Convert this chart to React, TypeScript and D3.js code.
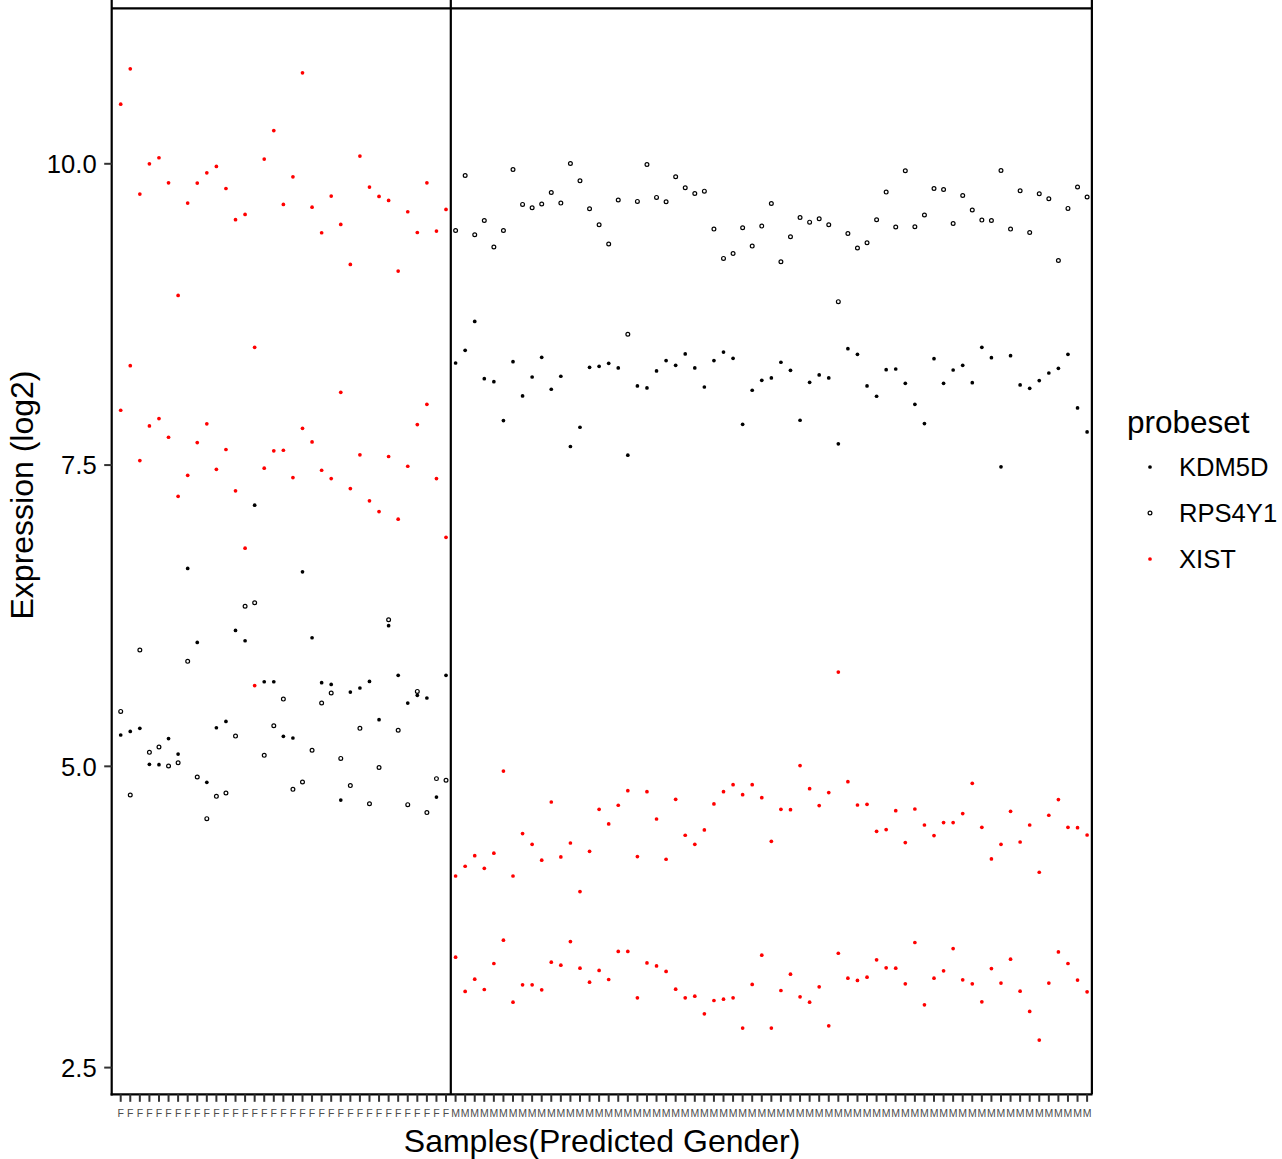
import React from "react";
import * as d3 from "d3";

// ---- data ----
const GENDER: string[] = (
  "FFFFFFFFFFFFFFFFFFFFFFFFFFFFFFFFFFF" +
  "MMMMMMMMMMMMMMMMMMMMMMMMMMMMMMMMMMMMMMMMMMMMMMMMMMMMMMMMMMMMMMMMMMM"
).split("");

const KDM5D: number[] = [
  5.26, 5.29, 5.315, 5.017, 5.014, 5.23, 5.102, 6.642, 6.028, 4.867,
  5.32, 5.373, 6.128, 6.042, 7.167, 5.702, 5.702, 5.249, 5.235, 6.614,
  6.067, 5.694, 5.68, 4.72, 5.616, 5.65, 5.705, 5.387, 6.167, 5.755,
  5.525, 5.589, 5.567, 4.745, 5.755,
  8.347, 8.452, 8.692, 8.217, 8.192, 7.869, 8.358, 8.074, 8.231, 8.394,
  8.129, 8.237, 7.654, 7.814, 8.311, 8.319, 8.344, 8.306, 7.582, 8.157,
  8.14, 8.281, 8.367, 8.328, 8.422, 8.306, 8.148, 8.367, 8.438, 8.386,
  7.838, 8.121, 8.203, 8.223, 8.353, 8.286, 7.872, 8.187, 8.248, 8.223,
  7.676, 8.466, 8.419, 8.157, 8.071, 8.292, 8.297, 8.178, 8.004, 7.844,
  8.383, 8.178, 8.289, 8.328, 8.184, 8.477, 8.391, 7.485, 8.408, 8.165,
  8.137, 8.201, 8.264, 8.303, 8.419, 7.974, 7.775,
];

const RPS4Y1: number[] = [
  5.456, 4.762, 5.965, 5.116, 5.16, 5.003, 5.03, 5.871, 4.911, 4.566,
  4.751, 4.779, 5.251, 6.329, 6.357, 5.091, 5.337, 5.558, 4.809, 4.87,
  5.133, 5.525, 5.608, 5.066, 4.84, 5.315, 4.69, 4.99, 6.216, 5.299,
  4.682, 5.622, 4.616, 4.898, 4.884,
  9.447, 9.903, 9.411, 9.53, 9.309, 9.447, 9.953, 9.663, 9.635, 9.666,
  9.762, 9.674, 10.003, 9.859, 9.627, 9.494, 9.334, 9.699, 8.585, 9.688,
  9.994, 9.721, 9.685, 9.892, 9.801, 9.754, 9.773, 9.458, 9.215, 9.256,
  9.469, 9.317, 9.483, 9.671, 9.187, 9.395, 9.555, 9.516, 9.544, 9.494,
  8.856, 9.422, 9.301, 9.345, 9.536, 9.765, 9.475, 9.942, 9.478, 9.575,
  9.795, 9.787, 9.505, 9.737, 9.616, 9.533, 9.53, 9.945, 9.458, 9.776,
  9.43, 9.751, 9.71, 9.198, 9.63, 9.807, 9.724,
];

const XIST_A: number[] = [
  10.495, 10.788, 9.749, 10.0, 10.05, 9.842, 8.908, 9.674, 9.84, 9.925,
  9.978, 9.795, 9.536, 9.58, 8.477, 10.039, 10.276, 9.663, 9.892, 10.755,
  9.64, 9.428, 9.732, 9.497, 9.165, 10.064, 9.807, 9.729, 9.696, 9.11,
  9.602, 9.43, 9.842, 9.442, 9.621,
  4.09, 4.171, 4.259, 4.154, 4.279, 4.961, 4.09, 4.442, 4.353, 4.221,
  4.704, 4.248, 4.364, 3.961, 4.295, 4.643, 4.522, 4.677, 4.798, 4.251,
  4.79, 4.563, 4.229, 4.726, 4.428, 4.353, 4.472, 4.688, 4.79, 4.848,
  4.765, 4.848, 4.74, 4.378, 4.643, 4.64, 5.006, 4.815, 4.674, 4.782,
  5.782, 4.873, 4.679, 4.685, 4.461, 4.475, 4.632, 4.367, 4.646, 4.513,
  4.425, 4.533, 4.533, 4.608, 4.859, 4.494, 4.232, 4.353, 4.627, 4.372,
  4.513, 4.121, 4.594, 4.724, 4.494, 4.491, 4.43,
];

const XIST_B: number[] = [
  7.955, 8.325, 7.537, 7.825, 7.886, 7.731, 7.241, 7.415, 7.687, 7.842,
  7.465, 7.629, 7.286, 6.81, 5.67, 7.474, 7.618, 7.623, 7.396, 7.805,
  7.692, 7.457, 7.388, 8.104, 7.305, 7.585, 7.203, 7.114, 7.571, 7.051,
  7.49, 7.836, 8.004, 7.388, 6.9,
  3.416, 3.132, 3.234, 3.148, 3.364, 3.557, 3.043, 3.187, 3.187, 3.145,
  3.375, 3.35, 3.546, 3.325, 3.209, 3.306, 3.231, 3.464, 3.464, 3.079,
  3.369, 3.344, 3.298, 3.151, 3.079, 3.093, 2.946, 3.057, 3.068, 3.079,
  2.828, 3.19, 3.433, 2.828, 3.14, 3.275, 3.087, 3.043, 3.17, 2.847,
  3.449, 3.242, 3.223, 3.25, 3.394, 3.328, 3.325, 3.195, 3.538, 3.021,
  3.242, 3.303, 3.488, 3.228, 3.195, 3.046, 3.322, 3.201, 3.4, 3.134,
  2.966, 2.728, 3.201, 3.46, 3.364, 3.226, 3.129,
];

const Y_TICKS: number[] = [2.5, 5.0, 7.5, 10.0];
const HLINE_VALUE = 11.29;
const PROBESETS = ["KDM5D", "RPS4Y1", "XIST"];

// ---- layout ----
const W = 1282;
const H = 1159;
const PANEL = { left: 111.7, right: 1092.5, top: 0, bottom: 1094.3 };
const FONT = "'Liberation Sans', Arial, Helvetica, sans-serif";
const DOT_R = 1.85;
const RING_R = 1.9;
const RING_W = 1.2;

export default function App() {
  const ids = GENDER.map((_, i) => `S${i + 1}`);
  const x = d3
    .scalePoint<string>()
    .domain(ids)
    .range([120.7, 1087.1]);
  const step = x.step();
  const y = d3.scaleLinear().domain([2.5, 10]).range([1067.6, 163.8]);

  const nF = GENDER.filter((g) => g === "F").length;
  const vlines = [
    (x(ids[nF - 1]) as number) + step / 2,
    (x(ids[ids.length - 1]) as number) + step / 2,
  ];

  const lw = 2.2;

  return (
    <svg
      width={W}
      height={H}
      style={{ position: "absolute", left: 0, top: 0, background: "#fff" }}
      fontFamily={FONT}
    >
      <rect x={0} y={0} width={W} height={H} fill="#fff" />

      {/* reference lines */}
      <line
        x1={PANEL.left}
        x2={PANEL.right}
        y1={y(HLINE_VALUE)}
        y2={y(HLINE_VALUE)}
        stroke="#000"
        strokeWidth={lw}
      />
      {vlines.map((vx, i) => (
        <line
          key={i}
          x1={vx}
          x2={vx}
          y1={PANEL.top}
          y2={PANEL.bottom}
          stroke="#000"
          strokeWidth={lw}
        />
      ))}

      {/* points */}
      <g>
        {KDM5D.map((v, i) => (
          <circle key={"k" + i} cx={x(ids[i])} cy={y(v)} r={DOT_R} fill="#000" />
        ))}
        {RPS4Y1.map((v, i) => (
          <circle
            key={"r" + i}
            cx={x(ids[i])}
            cy={y(v)}
            r={RING_R}
            fill="none"
            stroke="#000"
            strokeWidth={RING_W}
          />
        ))}
        {XIST_A.map((v, i) => (
          <circle key={"xa" + i} cx={x(ids[i])} cy={y(v)} r={DOT_R} fill="#ff0000" />
        ))}
        {XIST_B.map((v, i) => (
          <circle key={"xb" + i} cx={x(ids[i])} cy={y(v)} r={DOT_R} fill="#ff0000" />
        ))}
      </g>

      {/* axes lines */}
      <line
        x1={PANEL.left}
        x2={PANEL.left}
        y1={PANEL.top}
        y2={PANEL.bottom + lw / 2}
        stroke="#000"
        strokeWidth={lw}
      />
      <line
        x1={PANEL.left - lw / 2}
        x2={PANEL.right}
        y1={PANEL.bottom}
        y2={PANEL.bottom}
        stroke="#000"
        strokeWidth={lw}
      />

      {/* y ticks */}
      {Y_TICKS.map((t) => (
        <g key={t} transform={`translate(0,${y(t)})`}>
          <line x1={PANEL.left - 7.5} x2={PANEL.left} stroke="#333" strokeWidth={2} />
          <text
            x={PANEL.left - 15}
            dy="0.36em"
            textAnchor="end"
            fontSize={25.6}
            fill="#000"
          >
            {t.toFixed(1)}
          </text>
        </g>
      ))}

      {/* x ticks */}
      {ids.map((id, i) => (
        <g key={id} transform={`translate(${x(id)},0)`}>
          <line y1={PANEL.bottom} y2={PANEL.bottom + 7.5} stroke="#333" strokeWidth={2} />
          <text y={PANEL.bottom + 23} textAnchor="middle" fontSize={10.5} fill="#4d4d4d">
            {GENDER[i]}
          </text>
        </g>
      ))}

      {/* axis titles */}
      <text
        x={(PANEL.left + PANEL.right) / 2}
        y={1152}
        textAnchor="middle"
        fontSize={32}
        fill="#000"
      >
        Samples(Predicted Gender)
      </text>
      <text
        transform={`translate(33,495) rotate(-90)`}
        textAnchor="middle"
        fontSize={32}
        fill="#000"
      >
        Expression (log2)
      </text>

      {/* legend */}
      <g>
        <text x={1127} y={433} fontSize={31.5} fill="#000">
          probeset
        </text>
        {PROBESETS.map((p, i) => {
          const cy = 467 + i * 46;
          return (
            <g key={p}>
              {p === "RPS4Y1" ? (
                <circle cx={1150} cy={cy} r={RING_R} fill="none" stroke="#000" strokeWidth={RING_W} />
              ) : (
                <circle cx={1150} cy={cy} r={DOT_R} fill={p === "XIST" ? "#ff0000" : "#000"} />
              )}
              <text x={1179} y={cy} dy="0.36em" fontSize={25.6} fill="#000">
                {p}
              </text>
            </g>
          );
        })}
      </g>
    </svg>
  );
}
